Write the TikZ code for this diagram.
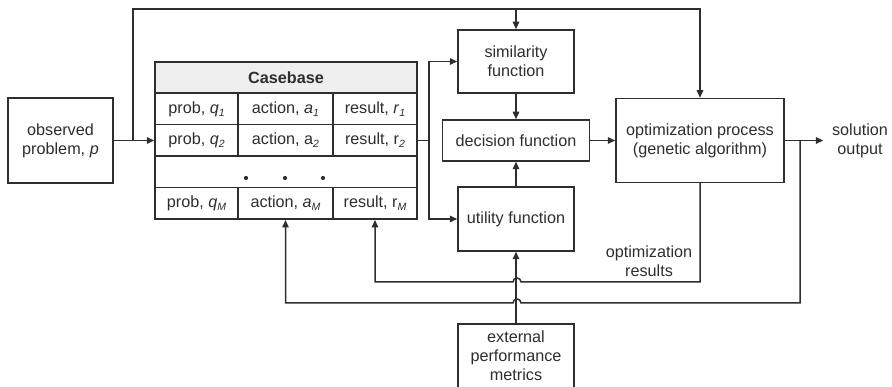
\documentclass[tikz,border=0pt]{standalone}
\usepackage{fontspec}
\setmainfont{Liberation Sans}
\usetikzlibrary{arrows.meta}
\definecolor{ink}{HTML}{2E2E2E}
\definecolor{headfill}{HTML}{EFEFEF}
% small italic index set below the baseline
\newcommand\lowidx[1]{\raisebox{-0.35ex}{\fontsize{10.5}{10.5}\selectfont\itshape #1}}
\begin{document}
\begin{tikzpicture}[x=1pt,y=-1pt,line width=1.5pt,draw=ink,
  txt/.style={text=ink,font=\fontsize{16.2}{19}\selectfont,align=center},
  box/.style={txt,draw=ink,fill=white,inner sep=0pt},
  cell/.style={box,minimum height=31.5pt},
  arr/.style={draw=ink,-{Triangle[length=7.5pt,width=6.5pt]}}]
\useasboundingbox (0,0) rectangle (892,387);

% input
\node[box,minimum width=105pt,minimum height=85pt] (obs) at (60.5,140.5) {observed\\problem, \textit{p}};

% casebase table
\node[cell,fill=headfill,minimum width=262pt,minimum height=31pt,font=\fontsize{16.2}{19}\selectfont\bfseries] (cb) at (286,77.5) {Casebase};
\node[cell,minimum width=83pt] (p1) at (196.5,109) {prob, \textit{q}\lowidx{1}};
\node[cell,minimum width=95pt] (a1) at (285.5,109) {action, \textit{a}\lowidx{1}};
\node[cell,minimum width=84pt] (r1) at (375,109) {result, \textit{r}\lowidx{1}};
\node[cell,minimum width=83pt] (p2) at (196.5,140.5) {prob, \textit{q}\lowidx{2}};
\node[cell,minimum width=95pt] (a2) at (285.5,140.5) {action, a\lowidx{2}};
\node[cell,minimum width=84pt] (r2) at (375,140.5) {result, r\lowidx{2}};
\node[cell,minimum width=262pt] (dots) at (286,172) {};
\foreach \dx in {246,285,323} \fill[ink] (\dx,178) circle[radius=2.1];
\node[cell,minimum width=83pt] (pM) at (196.5,203.5) {prob, \textit{q}\lowidx{M}};
\node[cell,minimum width=95pt] (aM) at (285.5,203.5) {action, \textit{a}\lowidx{M}};
\node[cell,minimum width=84pt] (rM) at (375,203.5) {result, r\lowidx{M}};

% function blocks
\node[box,minimum width=116pt,minimum height=63pt] (sim) at (516,61.5) {similarity\\function};
\node[box,minimum width=147pt,minimum height=41pt] (dec) at (516,140.5) {decision function};
\node[box,minimum width=116pt,minimum height=64pt] (util) at (516,219) {utility function};
\node[box,minimum width=168pt,minimum height=84pt] (opt) at (700,140.5) {optimization process\\(genetic algorithm)};
\node[box,minimum width=116pt,minimum height=64pt] (ext) at (516,356) {external\\performance\\metrics};

% free labels
\node[txt,inner xsep=8pt,inner ysep=0pt] (sol) at (860,140.5) {solution\\output};
\node[txt] (optres) at (649,261) {optimization\\results};

% junction points
\coordinate (jL) at (133,140.5);
\coordinate (topL) at (133,9);
\coordinate (topS) at (516,9);
\coordinate (topO) at (700,9);
\coordinate (jC) at (429,140.5);
\coordinate (outJ) at (800,140.5);

% problem into casebase and along the top
\draw[arr] (obs.east) -- (p2.west);
\draw[arr] (jL) -- (topL) -- (topO) -- (opt.north);
\draw[arr] (topS) -- (sim.north);

% casebase to similarity and utility
\draw (r2.east) -- (jC);
\draw[arr] (jC) |- (sim.west);
\draw[arr] (jC) |- (util.west);

% function chain
\draw[arr] (sim) -- (dec);
\draw[arr] (util) -- (dec);
\draw[arr] (dec) -- (opt);
\draw[arr] (opt) -- (sol);
\draw[arr] (ext) -- (util);

% feedback loops hopping over the metrics line
\draw[arr] (outJ) |- (521,303) arc[start angle=0,end angle=-180,radius=4] -| (aM.south);
\draw[arr] (opt.south) |- (521,282) arc[start angle=0,end angle=-180,radius=4] -| (rM.south);
\end{tikzpicture}
\end{document}
